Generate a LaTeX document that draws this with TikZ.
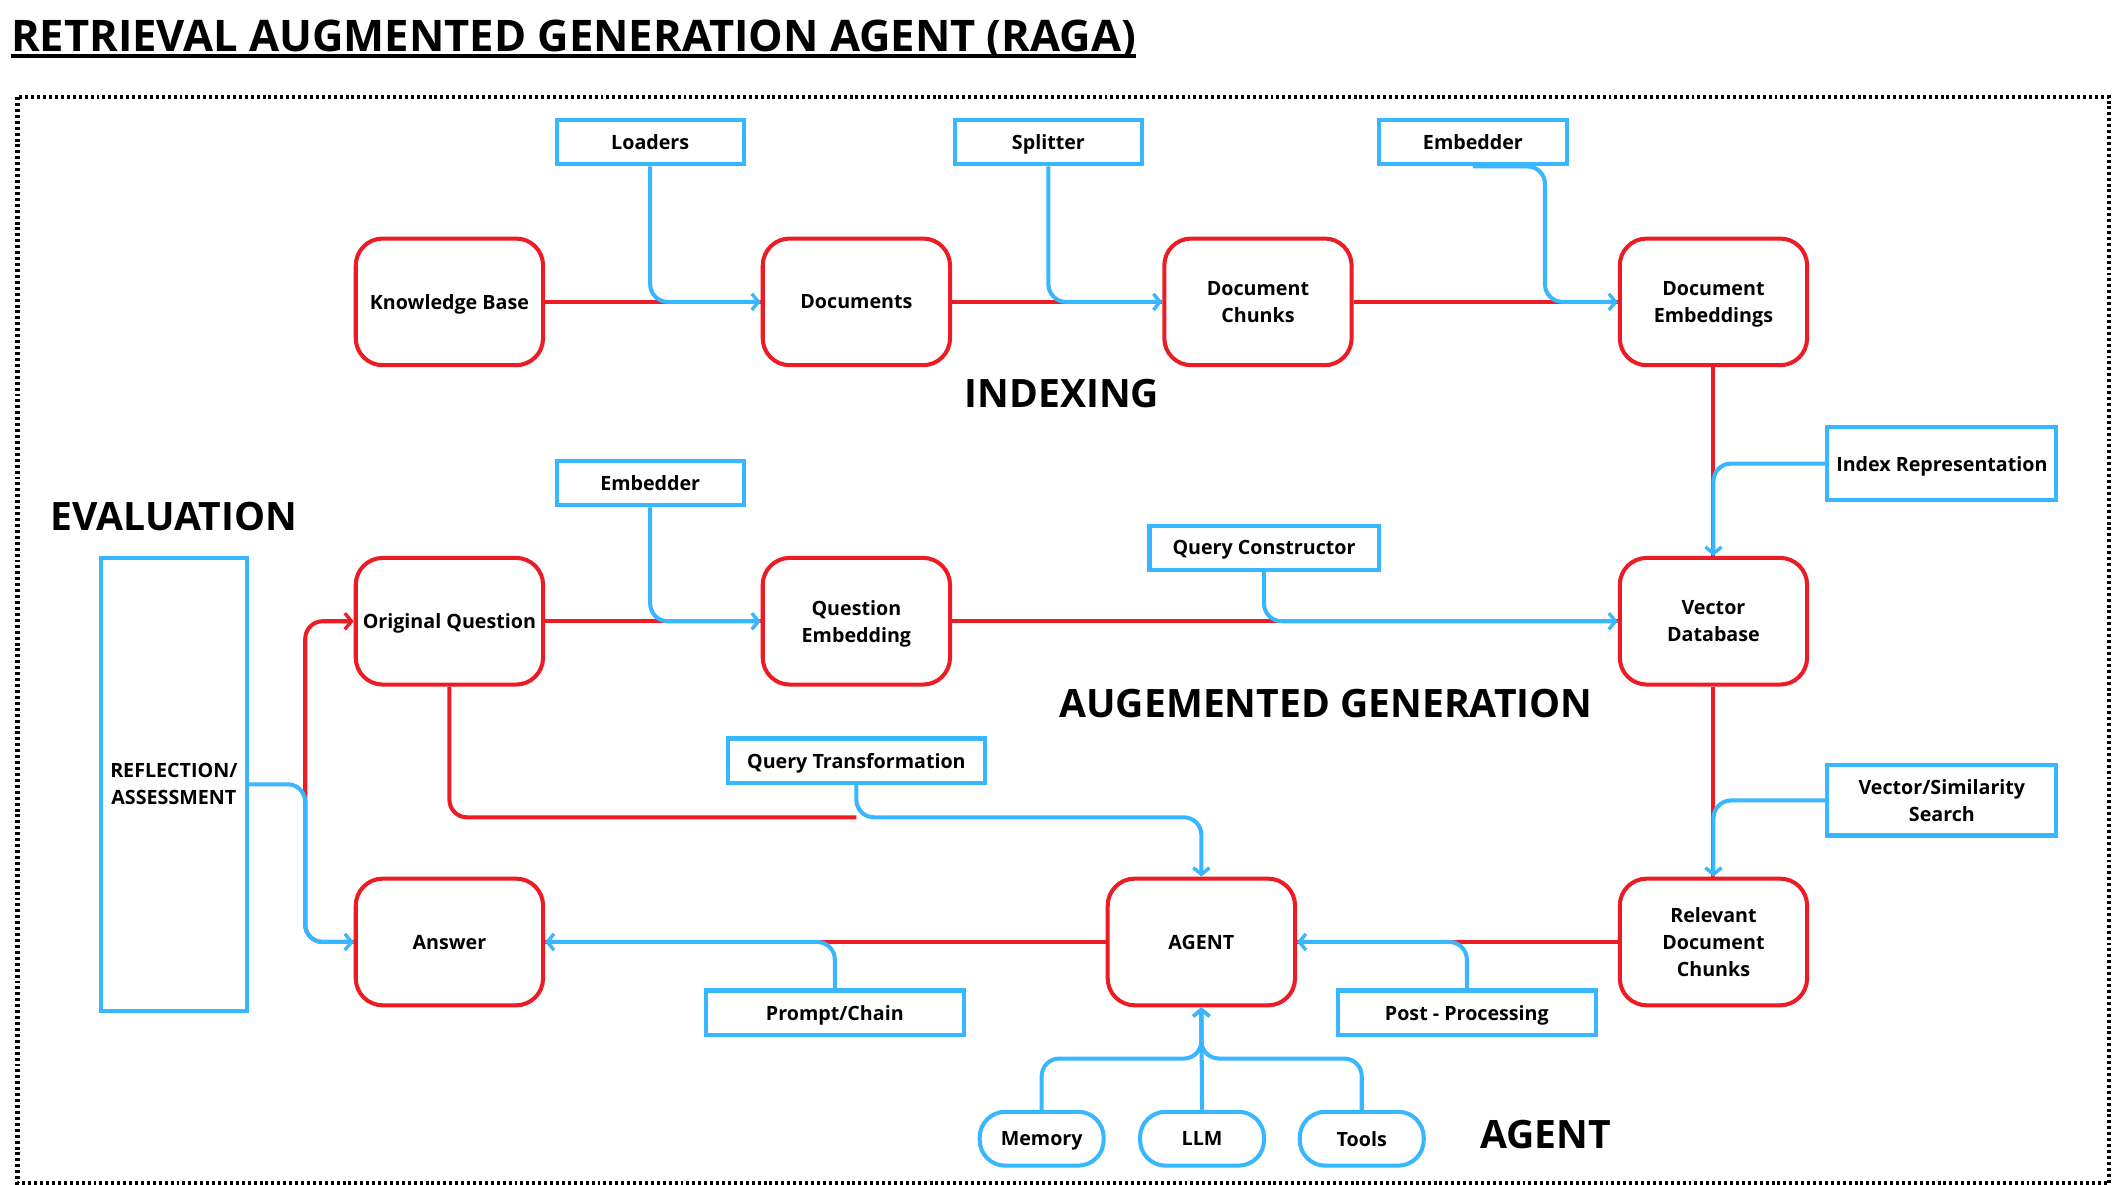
\documentclass[tikz,border=0pt]{standalone}
\usepackage{fontspec}
\setmainfont{Open Sans}
\usetikzlibrary{arrows.meta}
\definecolor{rr}{HTML}{EC1C24}
\definecolor{bb}{HTML}{38B6FF}
\begin{document}
\begin{tikzpicture}[x=1pt,y=-1pt,
  txt/.style={font=\fontsize{14.6}{20}\selectfont\bfseries, align=center, text depth=0pt},
  redbox/.style={txt, draw=rr, line width=3pt, rounded corners=20pt, minimum width=139pt, minimum height=94pt, fill=white, inner sep=2pt},
  bluebox/.style={txt, draw=bb, line width=3pt, minimum width=139pt, minimum height=33pt, fill=white, inner sep=2pt},
  pill/.style={txt, draw=bb, line width=3pt, rounded corners=19pt, minimum width=92pt, minimum height=40pt, fill=white},
  section/.style={font=\fontsize{29}{35}\selectfont\bfseries},
  redline/.style={draw=rr, line width=3pt},
  blueline/.style={draw=bb, line width=3pt, rounded corners=13pt},
  tip/.style={-{Straight Barb[length=5pt,width=12pt,line width=2.5pt]}}
]
\useasboundingbox (0,0) rectangle (1568,879);
\fill[white] (0,0) rectangle (1568,879);

% title
\node[anchor=base west, inner sep=0pt, font=\fontsize{32.3}{38}\selectfont\bfseries] (title) at (8,38) {RETRIEVAL AUGMENTED GENERATION AGENT (RAGA)};
\draw[line width=3pt] ([yshift=-3.5pt]title.base west) -- ([yshift=-3.5pt]title.base east);

% dotted frame
\draw[line width=3pt, dash pattern=on 2.2pt off 2.2pt] (13,72) rectangle (1565,878);

% section labels
\node[section] (lidx) at (788,292) {INDEXING};
\node[section] (leval) at (129,383) {EVALUATION};
\node[section] (laug) at (984,522) {AUGEMENTED GENERATION};
\node[section] (lagent) at (1147,842) {AGENT};

% red boxes
\node[redbox] (kb) at (333.5,224) {Knowledge Base};
\node[redbox] (doc) at (635.5,224) {Documents};
\node[redbox] (dc) at (933.5,224) {Document\\Chunks};
\node[redbox] (de) at (1271.5,224) {Document\\Embeddings};
\node[redbox] (oq) at (333.5,461) {Original Question};
\node[redbox] (qe) at (635.5,461) {Question\\Embedding};
\node[redbox] (vdb) at (1271.5,461) {Vector\\Database};
\node[redbox] (ans) at (333.5,699) {Answer};
\node[redbox] (agent) at (891.5,699) {AGENT};
\node[redbox] (rdc) at (1271.5,699) {Relevant\\Document\\Chunks};

% blue boxes
\node[bluebox] (load) at (482.5,105.5) {Loaders};
\node[bluebox] (split) at (778,105.5) {Splitter};
\node[bluebox] (emb1) at (1093,105.5) {Embedder};
\node[bluebox, minimum width=170pt, minimum height=54pt] (ir) at (1441,344) {Index Representation};
\node[bluebox] (emb2) at (482.5,358.5) {Embedder};
\node[bluebox, minimum width=170pt] (qc) at (938,406.5) {Query Constructor};
\node[bluebox, minimum width=191pt] (qt) at (635.5,564.5) {Query Transformation};
\node[bluebox, minimum width=170pt, minimum height=52pt] (vs) at (1441,594) {Vector/Similarity\\Search};
\node[bluebox, minimum width=191pt] (pc) at (619.5,751.5) {Prompt/Chain};
\node[bluebox, minimum width=191pt] (pp) at (1088.5,751.5) {Post - Processing};
\node[bluebox, minimum width=108pt, minimum height=336pt] (refl) at (129,582) {REFLECTION/\\ASSESSMENT};

% pills
\node[pill] (mem) at (773,845) {Memory};
\node[pill] (llm) at (892,845) {LLM};
\node[pill] (tools) at (1010.5,845) {Tools};

% red connectors
\draw[redline] (kb.east) -- (doc.west);
\draw[redline] (doc.east) -- (dc.west);
\draw[redline] (dc.east) -- (de.west);
\draw[redline] (de.south) -- (vdb.north);
\draw[redline] (oq.east) -- (qe.west);
\draw[redline] (qe.east) -- (vdb.west);
\draw[redline] (vdb.south) -- (rdc.north);
\draw[redline] (rdc.west) -- (agent.east);
\draw[redline] (agent.west) -- (ans.east);
\draw[redline, rounded corners=13pt] (oq.south) |- ([yshift=-24pt]qt.south);
\draw[redline, rounded corners=13pt, tip] (ans.west) -- ([xshift=-36pt]ans.west) |- (oq.west);

% blue connectors
\draw[blueline, tip] (load.south) |- (doc.west);
\draw[blueline, tip] (split.south) |- (dc.west);
\draw[blueline, tip] (emb1.south) -| ([xshift=-54pt]de.west) -- (de.west);
\draw[blueline, tip] (ir.west) -| (vdb.north);
\draw[blueline, tip] (emb2.south) |- (qe.west);
\draw[blueline, tip] (qc.south) |- (vdb.west);
\draw[blueline, tip] (vs.west) -| (rdc.north);
\draw[blueline, tip] (pp.north) |- (agent.east);
\draw[blueline, tip] (pc.north) |- (ans.east);
\draw[blueline, tip] (qt.south) -- ([yshift=-24pt]qt.south) -| (agent.north);
\draw[blueline, tip] (refl.east) -| ([xshift=-36pt]ans.west) -- (ans.west);
\draw[blueline, tip] (mem.north) -- ([yshift=38pt]mem.north) -| (agent.south);
\draw[blueline, tip] (tools.north) -- ([yshift=38pt]tools.north) -| (agent.south);
\draw[blueline, tip] (llm.north) -- (agent.south);
\end{tikzpicture}
\end{document}
